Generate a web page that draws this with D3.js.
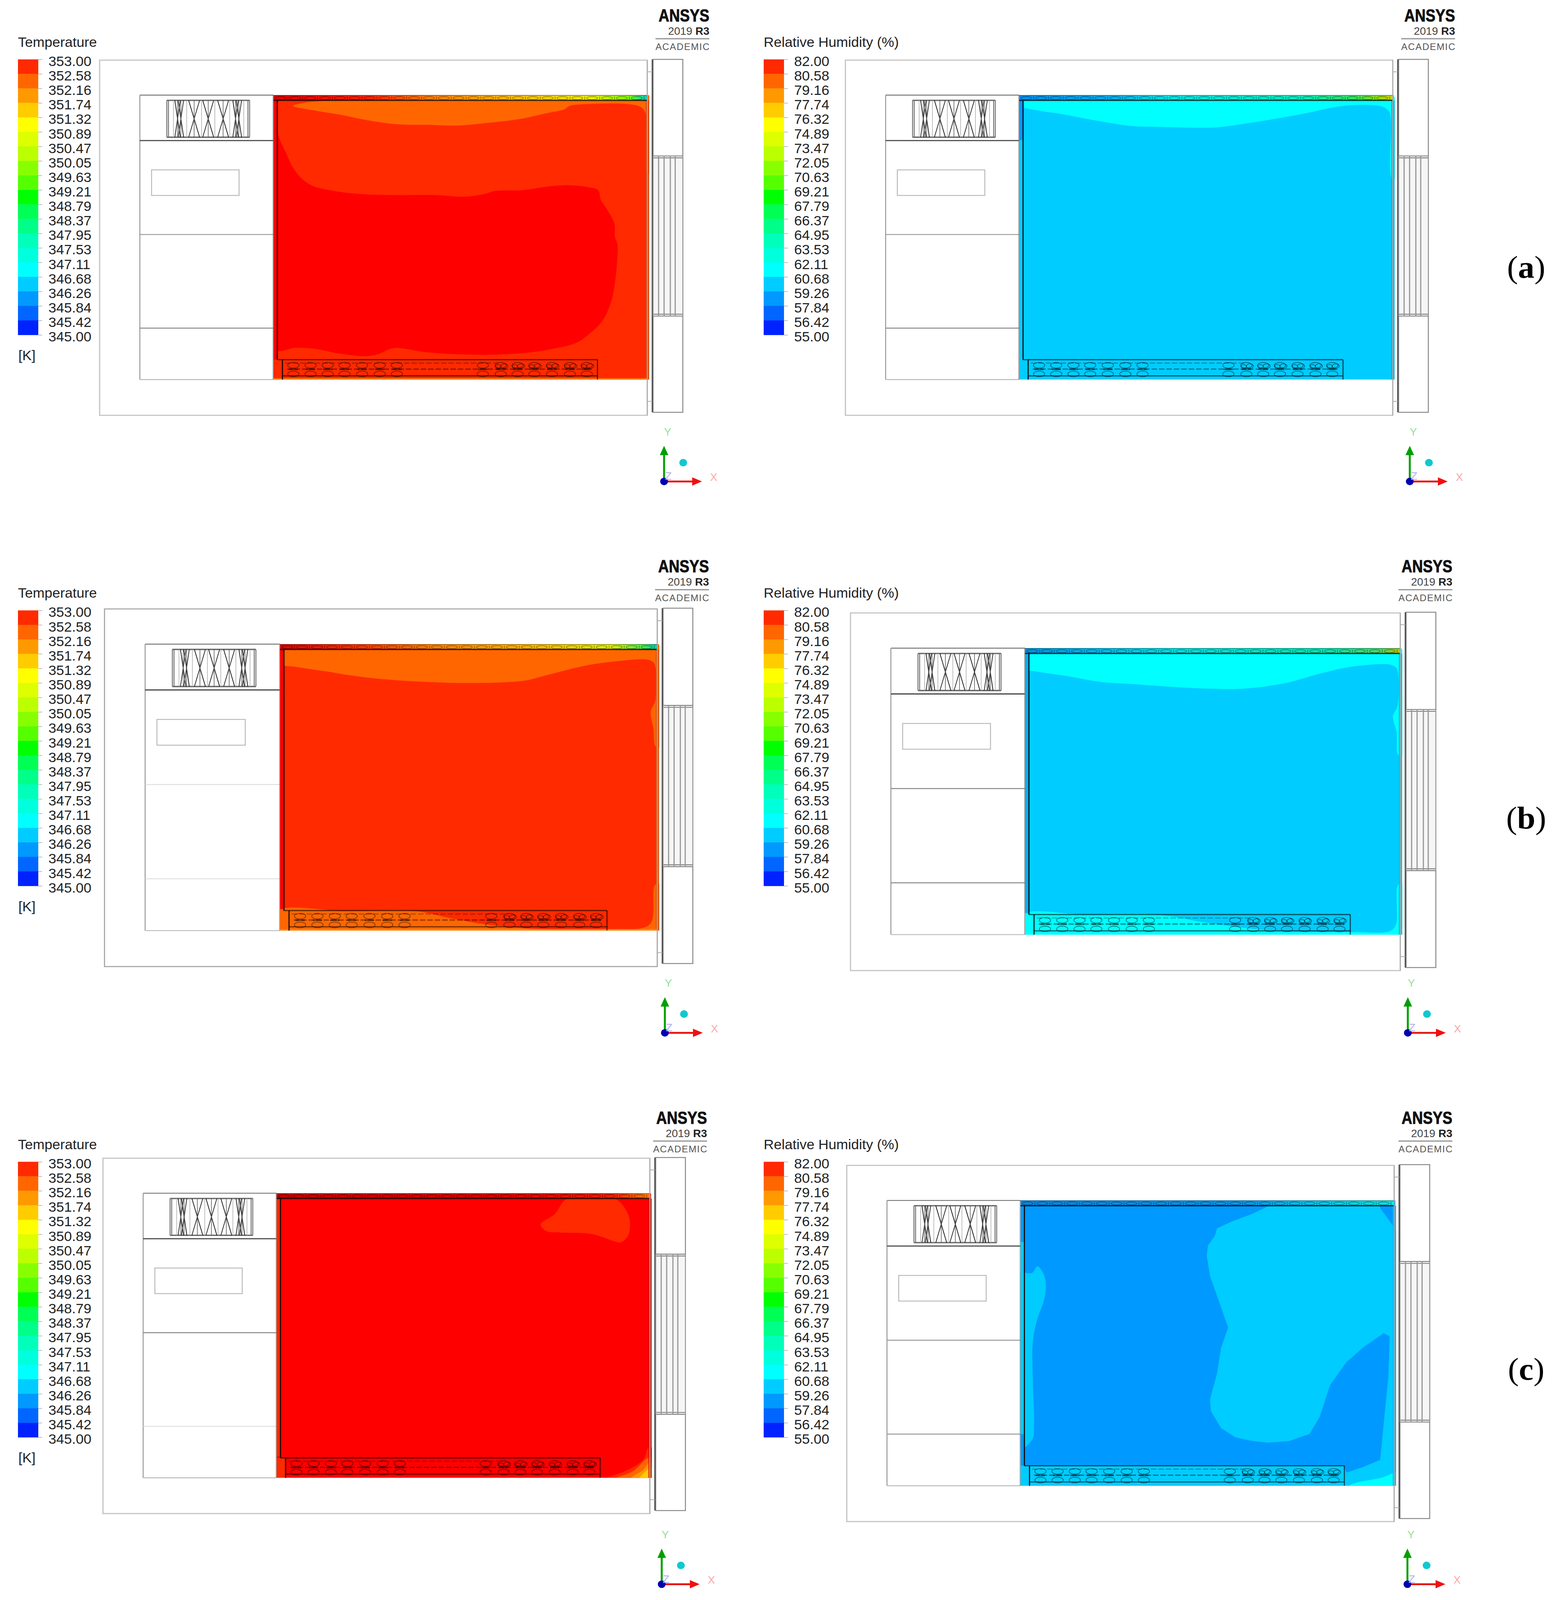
<!DOCTYPE html>
<html><head><meta charset="utf-8">
<style>html,body{margin:0;padding:0;background:#fff;overflow:hidden;width:100%;height:100%}svg{display:block;width:100vw;height:100vh}</style>
<script src="https://cdn.jsdelivr.net/npm/d3@7"></script>
</head><body><svg id="c" viewBox="0 0 3991 4257" preserveAspectRatio="none"></svg>
<script>
// ---- legend data
const tempLabels=["353.00","352.58","352.16","351.74","351.32","350.89","350.47","350.05","349.63","349.21","348.79","348.37","347.95","347.53","347.11","346.68","346.26","345.84","345.42","345.00"];
const rhLabels=["82.00","80.58","79.16","77.74","76.32","74.89","73.47","72.05","70.63","69.21","67.79","66.37","64.95","63.53","62.11","60.68","59.26","57.84","56.42","55.00"];
const bandColors=["#ff2a00","#ff6600","#ff9900","#ffcc00","#ffff00","#ddff00","#bbff00","#88ff00","#55ff00","#00ff00","#00ff55","#00ff88","#00ffbb","#00ffdd","#00ffff","#00ccff","#0099ff","#0066ff","#0022ff"];
const RED="#ff0000",RO="#ff2a00",OR="#ff6600",AM="#ff9900",YE="#ffcc00",CY="#00ffff",SKY="#00ccff",BL="#0099ff";
// ---- contour outlines (picture units of each panel's frame)
const aTempOrange=[[110,238],[200,258],[300,275],[400,296],[530,315],[650,317],[770,320],[900,308],[1020,293],[1130,268],[1200,252],[1220,238],[1300,230],[1450,230],[1500,240],[1522,262],[1526,400],[1532,520],[1545,520],[1545,200],[400,205],[250,216],[150,226]];
const aTempRed=[[40,330],[60,385],[85,440],[110,495],[150,545],[190,572],[270,592],[370,605],[500,610],[680,610],[800,617],[880,605],[920,593],[1030,590],[1130,575],[1215,569],[1300,578],[1335,590],[1345,630],[1370,670],[1400,730],[1402,785],[1412,815],[1408,920],[1395,1020],[1385,1060],[1355,1130],[1310,1180],[1250,1225],[1170,1248],[1050,1268],[900,1276],[760,1274],[640,1265],[530,1248],[500,1252],[450,1275],[400,1282],[300,1272],[200,1252],[120,1247],[40,1254]];
const aRhCyan=[[40,238],[110,258],[200,272],[300,292],[400,310],[480,322],[600,326],[740,329],[830,327],[950,310],[1080,288],[1200,265],[1240,255],[1330,238],[1420,234],[1490,242],[1515,262],[1522,300],[1526,540],[1540,540],[1540,205],[40,205]];
const bTempOrange=[[495,283],[530,293],[600,308],[660,322],[720,333],[800,342],[860,346],[930,349],[1030,347],[1090,340],[1140,322],[1230,290],[1300,275],[1385,268],[1400,278],[1405,300],[1404,410],[1393,450],[1400,510],[1405,570],[1418,570],[1418,222],[495,222]];
const bTempBottom=[[485,1142],[650,1142],[820,1142],[900,1165],[990,1188],[1100,1203],[1300,1205],[1375,1200],[1395,1180],[1404,1050],[1418,1050],[1418,1220],[485,1220]];
const bRhCyan=[[500,300],[530,310],[600,325],[680,345],[760,353],[850,362],[950,369],[1030,369],[1130,350],[1220,315],[1290,293],[1385,285],[1400,295],[1406,320],[1404,430],[1393,465],[1402,520],[1406,600],[1420,600],[1420,238],[500,238]];
const bRhBottom=[[490,1155],[650,1155],[820,1155],[950,1185],[1100,1210],[1300,1215],[1385,1212],[1400,1190],[1406,1050],[1420,1050],[1420,1234],[490,1234]];
const cTempPatch=[[1190,182],[1305,182],[1330,215],[1342,260],[1338,310],[1320,334],[1300,328],[1250,305],[1180,300],[1140,295],[1125,272],[1160,235]];
const cTempC1=[[1275,1160],[1330,1130],[1375,1090],[1387,1050],[1400,1050],[1400,1160]];
const cTempC2=[[1300,1160],[1350,1130],[1385,1085],[1400,1085],[1400,1160]];
const cTempC3=[[1340,1160],[1375,1125],[1390,1100],[1400,1100],[1400,1160]];
const cTempC4=[[1365,1160],[1390,1120],[1400,1120],[1400,1160]];
const cRhMain=[[1090,208],[1050,235],[1000,262],[965,285],[960,310],[943,345],[940,380],[948,450],[970,540],[992,630],[975,700],[965,790],[948,880],[950,920],[975,980],[1010,1012],[1050,1024],[1090,1030],[1140,1025],[1190,1000],[1215,940],[1240,830],[1280,750],[1320,700],[1370,650],[1385,660],[1382,800],[1375,900],[1368,1000],[1362,1090],[1320,1115],[1280,1134],[1272,1110],[480,1110],[480,1190],[1405,1190],[1405,300],[1380,250],[1362,215],[1360,200],[1090,200]];
const cRhLeft=[[480,445],[515,440],[528,417],[540,435],[548,470],[545,530],[528,600],[517,680],[517,820],[520,960],[515,1020],[480,1055]];
const cRhCorner=[[1280,1190],[1290,1176],[1370,1150],[1405,1132],[1405,1190]];
// ---- top-band colour runs
const aTempBand=[[0,"#e00000"],[.25,"#ff2000"],[.42,"#ff8000"],[.65,"#ffc000"],[.85,"#f0f000"],[.95,"#80ff00"],[1,"#00d0c0"]];
const aRhBand=[[0,"#0090f0"],[.25,"#00b0f0"],[.4,"#00e8e8"],[.75,"#00f0c0"],[.9,"#30e860"],[.97,"#a0e000"],[1,"#d0d000"]];
const bTempBand=[[0,"#e00000"],[.2,"#ff3000"],[.4,"#ff8000"],[.7,"#ffc000"],[.88,"#e0f000"],[.96,"#50f040"],[1,"#00d0b0"]];
const bRhBand=[[0,"#0090e0"],[.2,"#00b8f0"],[.4,"#00e0e0"],[.8,"#00e8b0"],[.95,"#50d860"],[1,"#c0c000"]];
const cTempBand=[[0,"#c80000"],[.6,"#e00000"],[.9,"#f02000"],[1,"#ff8000"]];
const cRhBand=[[0,"#0088e8"],[.6,"#0099f0"],[.75,"#00c0f0"],[1,"#00e8e0"]];
// ---- fins of the lower coil, in plane units
const finX=[51,95,139,182,227,272,316,536,582,625,668,713,759,802];
const topX=d3.range(25);
const grillX=[.13,.17,.33,.5,.68,.83,.87];
const slatX=[.205,.385,.59,.75];
const panels=[
{id:"aT",labels:tempLabels,title:"Temperature",unit:"[K]",col:0,row:0,L:700,R:1656,T:253,B:1010,frame:[32,1530,193,1380],logoR:1816,triad:[1700,1281],base:RO,regions:[[aTempOrange,OR],[aTempRed,RED]],band:aTempBand,strip:[[14,704,RED]],edge:"#d84000",lines:["#999","#888"],fuzz:"#ff9900"},
{id:"aH",labels:rhLabels,title:"Relative Humidity (%)",col:1,row:0,L:2609,R:3564.5,T:253,B:1010,frame:[30,1528,193,1380],logoR:3725,triad:[3609,1281],base:SKY,regions:[[aRhCyan,CY]],band:aRhBand,strip:[[14,120,BL]],edge:"#00a8d8",lines:["#999","#888"]},
{id:"bT",labels:tempLabels,title:"Temperature",unit:"[K]",col:0,row:1,L:716.7,R:1681.6,T:1713.8,B:2476,frame:[491,1408,214,1210],logoR:1815,triad:[1702,2748],base:RO,regions:[[bTempOrange,OR],[bTempBottom,OR]],band:bTempBand,strip:[[14,700,RED]],edge:"#d85000",lines:["#ddd","#ddd"],fuzz:"#ff9900"},
{id:"bH",labels:rhLabels,title:"Relative Humidity (%)",col:1,row:1,L:2624,R:3583.7,T:1724.5,B:2486.7,frame:[498,1410,228,1224],logoR:3718,triad:[3604,2748],base:SKY,regions:[[bRhCyan,CY],[bRhBottom,CY]],band:bRhBand,strip:[[14,700,"#00b0f0"]],edge:"#00b8c8",lines:["#888","#888"]},
{id:"cT",labels:tempLabels,title:"Temperature",unit:"[K]",col:0,row:2,L:708,R:1662.7,T:3174.7,B:3932,frame:[483,1390,163,1153],logoR:1810,triad:[1694,4215],base:RED,regions:[[cTempPatch,RO],[cTempC1,RO],[cTempC2,OR],[cTempC3,AM],[cTempC4,YE]],band:cTempBand,strip:[[14,700,RO]],edge:"#d01000",lines:["#888","#ddd"],block:RO},
{id:"cH",labels:rhLabels,title:"Relative Humidity (%)",col:1,row:2,L:2612.5,R:3568,T:3193.9,B:3953,frame:[487,1395,188,1180],logoR:3718,triad:[3603,4215],base:BL,regions:[[cRhMain,SKY],[cRhLeft,SKY],[cRhCorner,CY]],band:cRhBand,strip:[[14,110,BL],[110,620,SKY],[620,704,BL]],edge:"#00b0e8",lines:["#999","#999"]}
];
const panelTags=["(a)","(b)","(c)"];
const tagLetters=["a","b","c"];
const colDX=1909,rowDY=[0,1466,2933];

const svg=d3.select("#c");
const defs=svg.append("defs");
const F='"Liberation Sans",Arial,sans-serif',N='"Liberation Sans Narrow","Liberation Sans",sans-serif';
svg.append("rect").attr("width",3991).attr("height",4257).attr("fill","#fff");
const contour=d3.line().curve(d3.curveCatmullRomClosed.alpha(.5));
const polygon=d3.line().curve(d3.curveLinearClosed);

panels.forEach(p=>{
  const g=svg.append("g").attr("id",p.id);
  const dx=p.col*colDX,dy=rowDY[p.row];
  // legend
  const yL=d3.scalePoint().domain(p.labels).range([158+dy,891+dy]);
  g.append("text").text(p.title).attr("x",46+dx).attr("y",112+dy).attr("dy",".35em").attr("font-family",F).attr("font-size",36).attr("fill","#222");
  g.selectAll(null).data(bandColors).join("rect").attr("x",46+dx).attr("width",52)
    .attr("y",(d,i)=>yL(p.labels[i])).attr("height",(d,i)=>yL(p.labels[i+1])-yL(p.labels[i])+.5).attr("fill",d=>d);
  const ax=g.append("g").attr("transform",`translate(${98+dx},0)`).call(d3.axisRight(yL).tickSize(10).tickPadding(16));
  ax.select(".domain").remove();
  ax.selectAll("line").attr("stroke","#bbb").attr("stroke-width",2);
  ax.selectAll("text").attr("font-family",F).attr("font-size",36).attr("fill","#222").attr("dy",".39em").attr("transform","translate(0,3)");
  if(p.unit) g.append("text").text(p.unit).attr("x",47+dx).attr("y",946+dy).attr("dy",".35em").attr("font-family",F).attr("font-size",36).attr("fill","#222");
  // logo
  const lr=p.logoR,ly=dy;
  g.append("text").text("ANSYS").attr("x",lr-130).attr("y",57+ly).attr("font-family",N).attr("font-weight",700).attr("font-size",47).attr("textLength",130).attr("lengthAdjust","spacingAndGlyphs").attr("fill","#111").attr("stroke","#111").attr("stroke-width",1.2);
  const ver=g.append("text").attr("x",lr).attr("y",92+ly).attr("text-anchor","end").attr("font-family",N).attr("font-size",28).attr("fill","#444");
  ver.append("tspan").text("2019 ");ver.append("tspan").text("R3").attr("font-weight",700).attr("fill","#222");
  g.append("line").attr("x1",lr-138).attr("x2",lr).attr("y1",103+ly).attr("y2",103+ly).attr("stroke","#999").attr("stroke-width",3.5);
  g.append("text").text("ACADEMIC").attr("x",lr-138).attr("y",133+ly).attr("font-family",N).attr("font-size",24).attr("textLength",138).attr("lengthAdjust","spacing").attr("fill","#555");

  // plane scales: gx/gy in plane units, fx/fy in picture frame units
  const gx=d3.scaleLinear([0,956],[p.L,p.R]),gy=d3.scaleLinear([0,757],[p.T,p.B]);
  const fx=d3.scaleLinear([p.frame[0],p.frame[1]],[p.L,p.R]),fy=d3.scaleLinear([p.frame[2],p.frame[3]],[p.T,p.B]);
  const box=(x0,x1,y0,y1)=>({x:gx(x0),y:gy(y0),width:gx(x1)-gx(x0),height:gy(y1)-gy(y0)});
  const rect=(par,b,fill,stroke,sw,op)=>par.append("rect").attr("x",b.x).attr("y",b.y).attr("width",b.width).attr("height",b.height).attr("fill",fill).attr("stroke",stroke||"none").attr("stroke-width",sw||0).attr("opacity",op==null?1:op);
  const seg=(par,x1,y1,x2,y2,c,w,op)=>par.append("line").attr("x1",x1).attr("y1",y1).attr("x2",x2).attr("y2",y2).attr("stroke",c).attr("stroke-width",w).attr("opacity",op==null?1:op);

  // outer frame
  const outerLight=p.lines[0]==="#ddd"?"#aaa":"#c4c4c4";
  rect(g,box(-445,957,-93,852),"none",outerLight,3);
  // left compartment
  seg(g,gx(-342),gy(0),gx(0),gy(0),"#777",2.5);
  seg(g,gx(-342),gy(0),gx(-342),gy(757),"#999",2.5);
  seg(g,gx(-342),gy(757),gx(0),gy(757),"#bbb",2.5);
  seg(g,gx(-342),gy(121),gx(10),gy(121),"#444",3);
  seg(g,gx(-342),gy(371),gx(0),gy(371),p.lines[0],2.5);
  seg(g,gx(-342),gy(620),gx(0),gy(620),p.lines[1],2.5);
  rect(g,box(-312,-88,199,267),"#fff","#bbb",2.5);
  // grill
  const gl=-273,gr=-61,gw=gr-gl;
  seg(g,gx(gl),gy(14),gx(gr),gy(14),"#666",3.5);seg(g,gx(gl),gy(112),gx(gr),gy(112),"#666",3.5);
  [0,.02,.98,1].forEach(f=>seg(g,gx(gl+f*gw),gy(14),gx(gl+f*gw),gy(112),"#777",2.5));
  grillX.forEach(f=>{const c=gl+f*gw,h=f<.2||f>.8?7:14;
    seg(g,gx(c-h),gy(14),gx(c+h),gy(112),"#222",2);seg(g,gx(c+h),gy(14),gx(c-h),gy(112),"#333",2);
    seg(g,gx(c),gy(14),gx(c),gy(112),"#555",1.5);});
  [.08,.24,.42,.58,.76,.93].forEach(f=>seg(g,gx(gl+f*gw),gy(14),gx(gl+f*gw),gy(112),"#aaa",1.5));

  // fluid field
  const clipId="clip"+p.id;
  defs.append("clipPath").attr("id",clipId).append("rect").attr("x",p.L).attr("y",p.T).attr("width",p.R-p.L+6).attr("height",p.B-p.T);
  const fg=g.append("g").attr("clip-path",`url(#${clipId})`);
  rect(fg,box(0,960,0,757),p.base);
  p.regions.forEach(([pts,col])=>{
    const sharp=pts===cRhMain;
    fg.append("path").attr("d",(sharp?polygon:contour)(pts.map(d=>[fx(d[0]),fy(d[1])]))).attr("fill",col);
  });
  p.strip.forEach(([a,b,c])=>rect(fg,box(0,10,a,b),c));
  if(p.block) rect(fg,box(0,23,704,757),p.block);
  rect(fg,{x:p.R-3,y:gy(14),width:9,height:gy(757)-gy(14)},p.edge,null,0,.8);
  if(p.fuzz) seg(fg,p.L,p.B-2,p.R,p.B-2,p.fuzz,4,.7);
  // heated top band
  const gid="band"+p.id;
  const lg=defs.append("linearGradient").attr("id",gid);
  p.band.forEach(([o,c])=>lg.append("stop").attr("offset",o).attr("stop-color",c));
  rect(fg,box(0,956,0,14),`url(#${gid})`);
  seg(g,gx(0),gy(1),gx(956),gy(1),"#000",2,.35);
  seg(g,gx(0),gy(14),gx(956),gy(14),"#000",3.5,.75);
  topX.forEach(i=>{const c=18+i*38;
    g.append("ellipse").attr("cx",gx(c)).attr("cy",gy(8)).attr("rx",14).attr("ry",4).attr("fill","none").attr("stroke","#000").attr("stroke-width",1.4).attr("opacity",.45);
    seg(g,gx(c+19),gy(4),gx(c+19),gy(12),"#000",1.5,.45);});
  // inner walls and coil
  seg(g,gx(10),gy(14),gx(10),gy(704),"#000",3,.9);
  seg(g,gx(-1),gy(0),gx(-1),gy(757),"#777",2.5,.6);
  seg(g,gx(23),gy(704),gx(23),gy(757),"#000",3,.85);
  seg(g,gx(10),gy(704),gx(829.5),gy(704),"#000",3,.6);
  seg(g,gx(829.5),gy(704),gx(829.5),gy(757),"#000",3,.6);
  seg(g,gx(23),gy(747),gx(829.5),gy(747),"#000",2.5,.65);
  finX.forEach((c,i)=>{
    [719,742].forEach(yy=>g.append("ellipse").attr("cx",gx(c)).attr("cy",gy(yy)).attr("rx",14.5).attr("ry",7.5).attr("fill","none").attr("stroke","#000").attr("stroke-width",1.5).attr("opacity",.6));
    rect(g,{x:gx(c)-12,y:gy(727),width:24,height:5},"#000",null,0,.4);
    if(i>7){g.append("ellipse").attr("cx",gx(c+9)).attr("cy",gy(721)).attr("rx",9).attr("ry",6).attr("fill","none").attr("stroke","#000").attr("stroke-width",1.5).attr("opacity",.6);
      g.append("ellipse").attr("cx",gx(c-7)).attr("cy",gy(722)).attr("rx",7).attr("ry",5).attr("fill","none").attr("stroke","#000").attr("stroke-width",1.5).attr("opacity",.6);}
  });
  seg(g,gx(35),gy(729),gx(815),gy(729),"#000",3,.45).attr("stroke-dasharray","14 5");
  seg(g,gx(30),gy(713),gx(580),gy(713),"#000",1.6,.5).attr("stroke-dasharray","14 5");

  // right-hand wall and exchanger
  const bx0=p.R+14,bx1=p.R+92,yA=gy(-95),yB=gy(844),s0=gy(162),s1=gy(588);
  seg(g,p.R+1,gy(-93),p.R+1,gy(852),"#aaa",2.5);
  seg(g,bx0,yA,bx0,yB,"#333",3);
  seg(g,p.R+1,gy(-62),bx0,gy(-62),"#aaa",2);seg(g,p.R+1,gy(815),bx0,gy(815),"#aaa",2);
  g.append("rect").attr("x",bx0+2).attr("y",yA).attr("width",bx1-bx0-2).attr("height",yB-yA).attr("fill","#fff").attr("stroke","#888").attr("stroke-width",2.5);
  g.append("rect").attr("x",bx0+2).attr("y",s0).attr("width",bx1-bx0-2).attr("height",s1-s0).attr("fill","#f6f6f6");
  [s0,s0+5,s1-5,s1].forEach(v=>seg(g,bx0+2,v,bx1,v,"#777",2.2));
  slatX.forEach(f=>{const x=bx0+f*(bx1-bx0);seg(g,x,s0,x,s1,"#999",3);});
  seg(g,bx0+2,s0,bx0+2,s1,"#999",2.5);seg(g,bx1,s0,bx1,s1,"#999",2.5);
  // triad
  const [ox,oy]=p.triad;
  const t=g.append("g");
  seg(t,ox,oy,ox,oy-75,"#00a000",5);
  t.append("path").attr("d",d3.line()([[ox-11,oy-70],[ox,oy-95],[ox+11,oy-70]])).attr("fill","#00a000");
  seg(t,ox,oy,ox+78,oy,"#e81010",5);
  t.append("path").attr("d",d3.line()([[ox+72,oy-11],[ox+97,oy],[ox+72,oy+11]])).attr("fill","#f01010");
  t.append("circle").attr("cx",ox).attr("cy",oy).attr("r",10).attr("fill","#0000b0");
  t.append("ellipse").attr("cx",ox+49).attr("cy",oy-50).attr("rx",10).attr("ry",10).attr("fill","#10c8d0");
  [["Y",9,-132,"#98e098"],["X",127,-11,"#f8a8a8"],["Z",11,-14,"#b0b0f0"]].forEach(([s,a,b,c])=>t.append("text").text(s).attr("x",ox+a).attr("y",oy+b).attr("dy",".35em").attr("text-anchor","middle").attr("font-family",F).attr("font-size",28).attr("fill",c));
});
panelTags.forEach((s,i)=>{
  const t=svg.append("text").attr("x",3907).attr("y",739+rowDY[i]+(i?-1:0)).attr("text-anchor","middle").attr("font-family",'"Liberation Serif",serif').attr("font-size",84).attr("fill","#000");
  t.append("tspan").text("(");t.append("tspan").text(tagLetters[i]).attr("font-weight",700);t.append("tspan").text(")");
});
</script></body></html>
